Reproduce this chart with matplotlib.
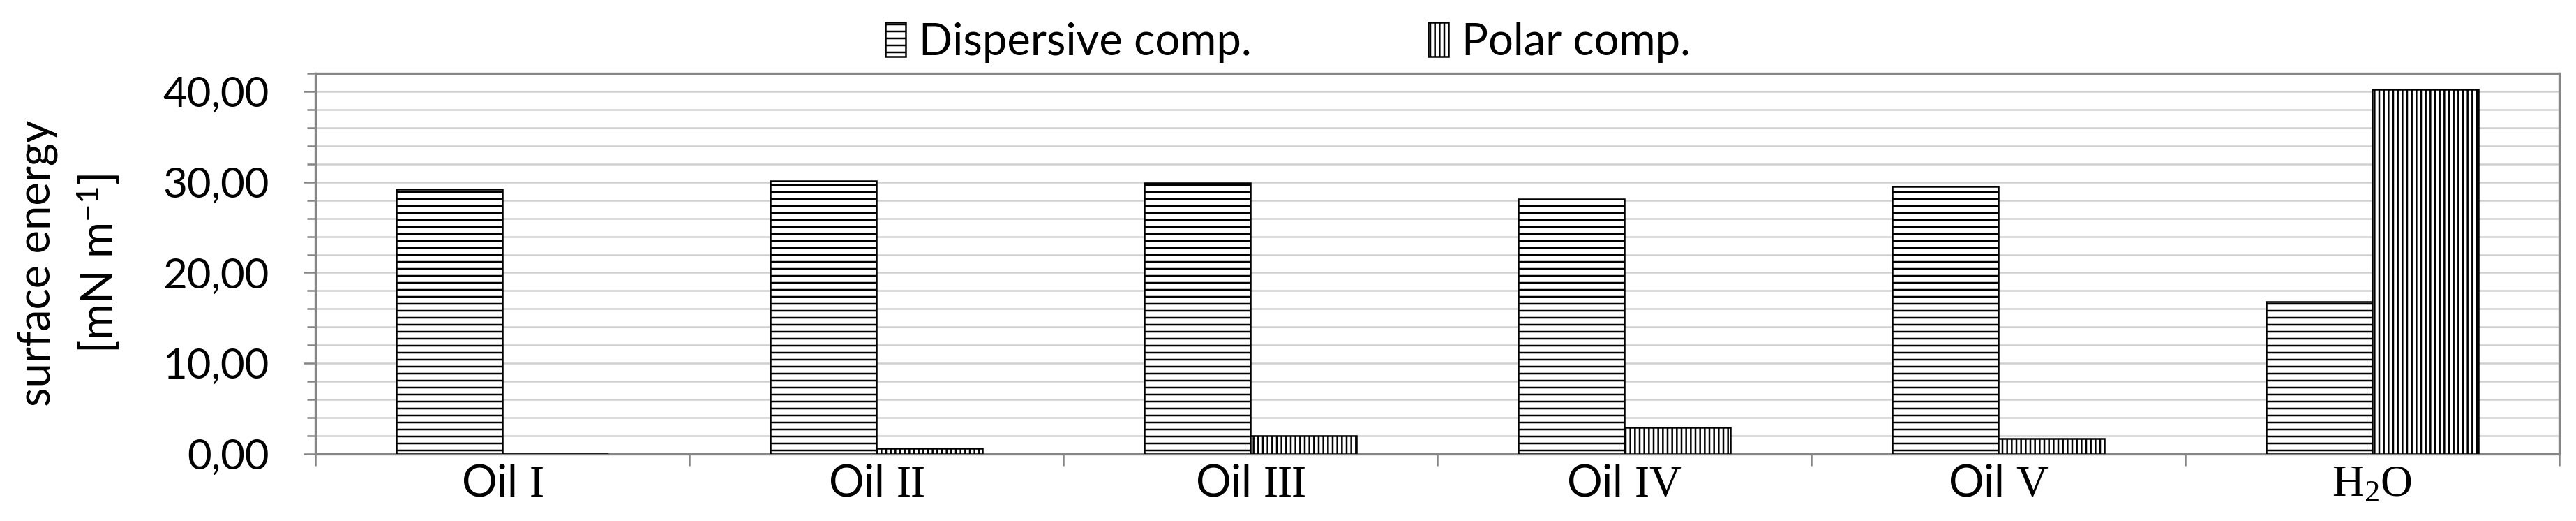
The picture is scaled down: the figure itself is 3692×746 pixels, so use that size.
import matplotlib
matplotlib.use('Agg')
import matplotlib.pyplot as plt
from matplotlib.ticker import MultipleLocator, FuncFormatter
from matplotlib.transforms import ScaledTranslation
import numpy as np

# values
categories = ['Oil $\\mathrm{I}$', 'Oil $\\mathrm{II}$', 'Oil $\\mathrm{III}$',
              'Oil $\\mathrm{IV}$', 'Oil $\\mathrm{V}$', '$\\mathrm{H_2O}$']
dispersive = [29.2, 30.1, 29.9, 28.1, 29.5, 16.8]
polar = [0.0, 0.6, 2.0, 2.9, 1.7, 40.2]
series_names = ['Dispersive comp.', 'Polar comp.']

# the category labels in the original sit a little off centre (pixels)
label_shift = [-42, -25, -18, -11, 0, 12]

plt.rcParams['font.family'] = ['Lato', 'DejaVu Sans']
plt.rcParams['mathtext.fontset'] = 'custom'
plt.rcParams['mathtext.rm'] = 'Liberation Serif'
plt.rcParams['mathtext.it'] = 'Liberation Serif:italic'
plt.rcParams['mathtext.bf'] = 'Liberation Serif:bold'
plt.rcParams['mathtext.sf'] = 'Lato'
plt.rcParams['hatch.linewidth'] = 1.5

DPI = 120
fig = plt.figure(figsize=(3692 / DPI, 746 / DPI), dpi=DPI)
ax = fig.add_axes([452 / 3692, 96 / 746, 3216 / 3692, 545 / 746])

x = np.arange(len(categories))
w = 0.284
ax.bar(x - w / 2, dispersive, w, color='white', edgecolor='black',
       hatch='--', linewidth=1.5, label=series_names[0], zorder=3)
ax.bar(x + w / 2, polar, w, color='white', edgecolor='black',
       hatch='|||', linewidth=1.5, label=series_names[1], zorder=3)

ax.set_xlim(-0.5, len(categories) - 0.5)
ax.set_ylim(0, 42)

ax.yaxis.set_major_locator(MultipleLocator(10))
ax.yaxis.set_minor_locator(MultipleLocator(2))
ax.yaxis.set_major_formatter(FuncFormatter(lambda v, p: ('%.2f' % v).replace('.', ',')))
ax.grid(which='both', axis='y', color='#d0d0d0', linewidth=1.5)
ax.set_axisbelow(True)

ax.set_xticks(x)
ax.set_xticklabels(categories)
ax.set_xticks(np.arange(-0.5, len(categories), 1), minor=True)
for lbl, dx in zip(ax.get_xticklabels(), label_shift):
    lbl.set_transform(lbl.get_transform() + ScaledTranslation(dx / DPI, 0, fig.dpi_scale_trans))

grey = '#868686'
for s in ax.spines.values():
    s.set_color(grey)
    s.set_linewidth(2)

ax.tick_params(axis='x', which='major', length=0, pad=8, labelsize=38)
ax.tick_params(axis='x', which='minor', length=10, width=1.5, color=grey)
ax.tick_params(axis='y', which='major', length=10, width=1.5, color=grey,
               pad=30, labelsize=36)
ax.tick_params(axis='y', which='minor', length=7, width=1.5, color=grey)

fig.text(100 / 3692, 1 - 377 / 746, 'surface energy\n[mN m$^{\\mathsf{-1}}$]',
         rotation=90, ha='center', va='center', multialignment='center',
         fontsize=38, linespacing=1.45)

fig.legend(loc='upper center', bbox_to_anchor=(0.5, 1.0), ncol=2, frameon=False,
           fontsize=38, handlelength=0.45, handleheight=0.8, handletextpad=0.3,
           columnspacing=4.0, borderaxespad=0.1)

fig.savefig('out.png', dpi=DPI)
